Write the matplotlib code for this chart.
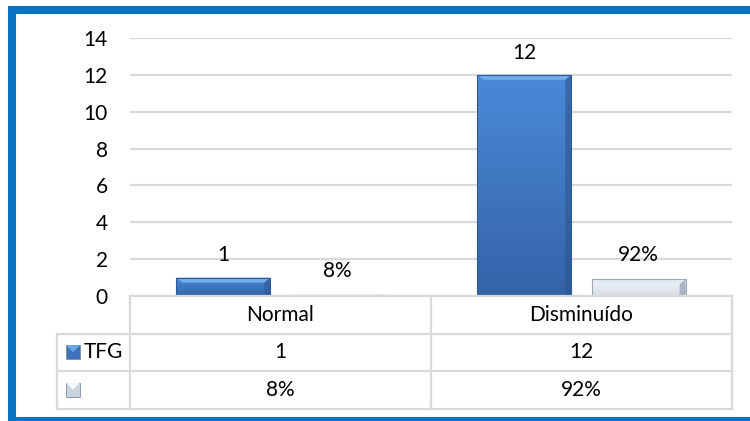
import numpy as np
import matplotlib
matplotlib.use("Agg")
import matplotlib.pyplot as plt
from matplotlib.patches import Rectangle, Polygon
from matplotlib.lines import Line2D
from matplotlib.colors import LinearSegmentedColormap

categories = ["Normal", "Disminuído"]
tfg_values = [1, 12]
pct_values = [0.08, 0.92]
tfg_labels = ["1", "12"]
pct_labels = ["8%", "92%"]
series_names = ["TFG", ""]
yticks = [0, 2, 4, 6, 8, 10, 12, 14]

plt.rcParams['font.family'] = ['Lato', 'DejaVu Sans']
FS = 15

W, H = 750, 421
fig = plt.figure(figsize=(W / 100, H / 100), dpi=100)
fig.patch.set_facecolor("white")

# plot area in pixels
x0, x1, ytop, ybot = 130, 732, 38, 296
ax = fig.add_axes([x0 / W, 1 - ybot / H, (x1 - x0) / W, (ybot - ytop) / H])
ax.set_xlim(-0.5, 1.5)
ax.set_ylim(0, 14)
ax.set_yticks(yticks)
ax.set_yticklabels([str(t) for t in yticks], fontsize=FS)
ax.tick_params(axis='y', length=0, pad=16)
ax.set_xticks([])
for s in ax.spines.values():
    s.set_visible(False)
ax.grid(axis='y', color='#d9d9d9', linewidth=1.6)
ax.set_axisbelow(True)

blue_cmap = LinearSegmentedColormap.from_list("b", ["#3563a8", "#4a8ad8"])
light_cmap = LinearSegmentedColormap.from_list("l", ["#d2dbe6", "#f6f8fb"])

bw = 0.312
off = 0.19
x = np.arange(len(categories))
px_y = (ybot - ytop) / 14.0
px_x = (x1 - x0) / 2.0


def fancy_bars(xs, vals, cmap, edge, bevel_top, bevel_side):
    bars = ax.bar(xs, vals, width=bw, color='none', edgecolor=edge, linewidth=0.8, zorder=3)
    for b in bars:
        bx, by = b.get_x(), b.get_y()
        w, h = b.get_width(), b.get_height()
        grad = np.linspace(0, 1, 64).reshape(-1, 1)
        im = ax.imshow(grad, cmap=cmap, origin='lower', aspect='auto',
                       extent=[bx, bx + w, by, by + h], zorder=2)
        im.set_clip_path(b)
        d_y = min(5 / px_y, h / 2)
        d_x = min(6 / px_x, w / 4)
        top = by + h
        ax.add_patch(Polygon([[bx, top], [bx + w, top], [bx + w - d_x, top - d_y],
                              [bx + d_x, top - d_y]], closed=True,
                             facecolor=bevel_top, edgecolor='none', zorder=2.5))
        ax.add_patch(Polygon([[bx + w, top], [bx + w, by], [bx + w - d_x, by + d_y * 0.3],
                              [bx + w - d_x, top - d_y]], closed=True,
                             facecolor=bevel_side, edgecolor='none', alpha=0.6, zorder=2.5))
    ax.set_xlim(-0.5, 1.5)
    ax.set_ylim(0, 14)
    return bars


fancy_bars(x - off, tfg_values, blue_cmap, '#2f5a96', '#72aeea', '#2c5590')
fancy_bars(x + off, pct_values, light_cmap, '#9aa8b8', '#e4eaf1', '#8595a8')

for xi, v, lab in zip(x - off, tfg_values, tfg_labels):
    ax.annotate(lab, (xi, v), xytext=(0, 16), textcoords='offset points',
                ha='center', va='center', fontsize=FS)
for xi, v, lab in zip(x + off, pct_values, pct_labels):
    ax.annotate(lab, (xi, v), xytext=(0, 17), textcoords='offset points',
                ha='center', va='center', fontsize=FS)

# data table below the plot
line_c = '#d9d9d9'
lw = 1.6
rows_px = [296, 333.5, 371, 408.5]
lab_left = 57
col_px = [x0, (x0 + x1) / 2, x1]


def fx(p):
    return p / W


def fy(p):
    return 1 - p / H


# horizontal lines
fig.add_artist(Line2D([fx(x0), fx(x1)], [fy(rows_px[0])] * 2, color=line_c, lw=lw))
for r in rows_px[1:]:
    fig.add_artist(Line2D([fx(lab_left), fx(x1)], [fy(r)] * 2, color=line_c, lw=lw))
# vertical lines
fig.add_artist(Line2D([fx(lab_left)] * 2, [fy(rows_px[1]), fy(rows_px[3])], color=line_c, lw=lw))
for c in col_px:
    fig.add_artist(Line2D([fx(c)] * 2, [fy(rows_px[0]), fy(rows_px[3])], color=line_c, lw=lw))

row_texts = [categories, tfg_labels, pct_labels]
for ri, texts in enumerate(row_texts):
    yc = (rows_px[ri] + rows_px[ri + 1]) / 2
    for ci, t in enumerate(texts):
        xc = (col_px[ci] + col_px[ci + 1]) / 2
        fig.text(fx(xc), fy(yc), t, ha='center', va='center', fontsize=FS)

# legend keys in the row labels
key_cols = [("#3d73bd", "#6aa5e6"), ("#c9d3de", "#f3f6fa")]
for ri, (name, (c_dark, c_light)) in enumerate(zip(series_names, key_cols)):
    yc = (rows_px[ri + 1] + rows_px[ri + 2]) / 2
    k = 14
    fig.add_artist(Rectangle((fx(66), fy(yc + k / 2)), k / W, k / H,
                             facecolor=c_dark, edgecolor='#7f8fa3', lw=0.6,
                             transform=fig.transFigure))
    fig.add_artist(Polygon([[fx(66), fy(yc - k / 2)], [fx(66 + k), fy(yc - k / 2)],
                            [fx(66 + k / 2), fy(yc)]], closed=True,
                           facecolor=c_light, edgecolor='none', transform=fig.transFigure))
    if name:
        fig.text(fx(84), fy(yc), name, ha='left', va='center', fontsize=FS)

# blue outer frame
fig.add_artist(Rectangle((fx(11.5), fy(421)), (760 - 11.5) / W, (421 - 9.5) / H,
                         facecolor='none', edgecolor='#0a72c2', lw=5.8,
                         transform=fig.transFigure))

fig.savefig("out.png", dpi=100)
